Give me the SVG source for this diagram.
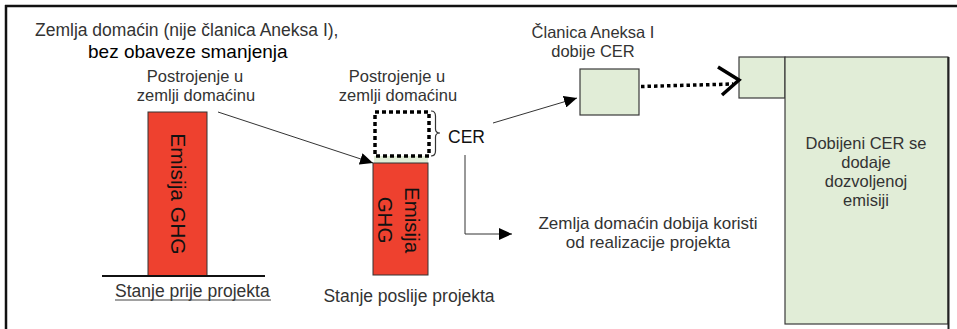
<svg xmlns="http://www.w3.org/2000/svg" width="957" height="329" viewBox="0 0 957 329">
  <style>
    .t { font-family: "Liberation Sans", Arial, sans-serif; font-size: 17px; fill: #333; }
    .s { font-size: 16.5px; }
    .c { text-anchor: middle; }
    .red { fill: #EE412F; stroke: #333; stroke-width: 1; }
    .grn { fill: #E1EDD7; stroke: #3a3a3a; stroke-width: 1.2; }
    .ln { fill: none; stroke: #333; stroke-width: 1.2; }
    .dot { fill: none; stroke: #000; stroke-width: 3.5; stroke-dasharray: 4 3; }
  </style>
  <defs>
    <marker id="head" markerUnits="userSpaceOnUse" markerWidth="14" markerHeight="12" refX="13" refY="6" orient="auto">
      <path d="M0,0 L13,6 L0,12 z" fill="#000"/>
    </marker>
  </defs>

  <rect width="957" height="329" fill="#fff"/>

  <!-- frame -->
  <g id="frame" stroke="#111" stroke-width="2.5" fill="none">
    <line x1="5" y1="6" x2="957" y2="6"/>
    <line x1="6" y1="5" x2="6" y2="329"/>
  </g>

  <!-- headline -->
  <g id="title">
    <text class="t" x="35" y="36" style="font-size:17.5px">Zemlja domaćin (nije članica Aneksa I),</text>
    <text class="t" x="88" y="58" style="font-size:19px;fill:#000">bez obaveze smanjenja</text>
  </g>

  <!-- state before the project -->
  <g id="before">
    <text class="t s c" x="195" y="81.5">Postrojenje u</text>
    <text class="t s c" x="196" y="100.5">zemlji domaćinu</text>
    <rect class="red" x="148" y="112" width="59" height="164"/>
    <text class="t c" transform="translate(171,194) rotate(90)" style="font-size:21px;fill:#111">Emisija GHG</text>
    <line x1="102" y1="276" x2="265" y2="276" stroke="#111" stroke-width="2"/>
    <text class="t" x="115" y="297" style="font-size:17.5px">Stanje prije projekta</text>
    <line x1="115" y1="300" x2="271" y2="300" stroke="#444" stroke-width="1"/>
  </g>

  <!-- state after the project -->
  <g id="after">
    <text class="t s c" x="397" y="81.5">Postrojenje u</text>
    <text class="t s c" x="398" y="100.5">zemlji domaćinu</text>
    <rect x="374" y="156" width="54" height="7" fill="#E1EDD7"/>
    <rect class="dot" x="375" y="112" width="54" height="44"/>
    <path class="ln" d="M431,111 Q435.5,111 435.5,116 L435.5,129 Q435.5,133 440,133 Q435.5,133 435.5,137 L435.5,151 Q435.5,156 431,156" stroke-width="1"/>
    <rect class="red" x="373" y="163" width="55" height="112"/>
    <text class="t c" transform="translate(405,220) rotate(90)" style="font-size:20.5px;fill:#111">Emisija</text>
    <text class="t c" transform="translate(378,220) rotate(90)" style="font-size:20.5px;fill:#111">GHG</text>
    <text class="t c" x="409" y="302" style="font-size:17.5px">Stanje poslije projekta</text>
  </g>

  <!-- credits -->
  <g id="cer">
    <text class="t" x="448" y="143" style="fill:#111;font-size:17.5px">CER</text>
  </g>

  <g id="host-benefit">
    <text class="t c" x="648" y="229">Zemlja domaćin dobija koristi</text>
    <text class="t c" x="648" y="248">od realizacije projekta</text>
  </g>

  <g id="annex-member">
    <text class="t s c" x="593" y="38">Članica Aneksa I</text>
    <text class="t s c" x="593" y="57">dobije CER</text>
    <rect class="grn" x="580" y="69" width="59" height="46"/>
  </g>

  <g id="allowance">
    <rect class="grn" x="739" y="57" width="46" height="41"/>
    <rect class="grn" x="785" y="57" width="163" height="267"/>
    <line x1="948.5" y1="57" x2="948.5" y2="329" stroke="#222" stroke-width="2"/>
    <text class="t s c" x="866" y="148.5">Dobijeni CER se</text>
    <text class="t s c" x="866" y="167.5">dodaje</text>
    <text class="t s c" x="866" y="186.5">dozvoljenoj</text>
    <text class="t s c" x="866" y="205.5">emisiji</text>
  </g>

  <!-- connectors -->
  <g id="connectors">
    <line x1="218" y1="112" x2="373" y2="163" stroke="#333" stroke-width="1" marker-end="url(#head)"/>
    <line x1="493" y1="123" x2="577" y2="98" stroke="#333" stroke-width="1" marker-end="url(#head)"/>
    <polyline points="465,155 465,234 512,234" fill="none" stroke="#333" stroke-width="1" marker-end="url(#head)"/>
    <line x1="641" y1="86.5" x2="733" y2="84" stroke="#000" stroke-width="3.5" stroke-dasharray="3.5 3"/>
    <polyline points="718,67 739,80 722,95" fill="none" stroke="#000" stroke-width="3.5"/>
  </g>
</svg>
